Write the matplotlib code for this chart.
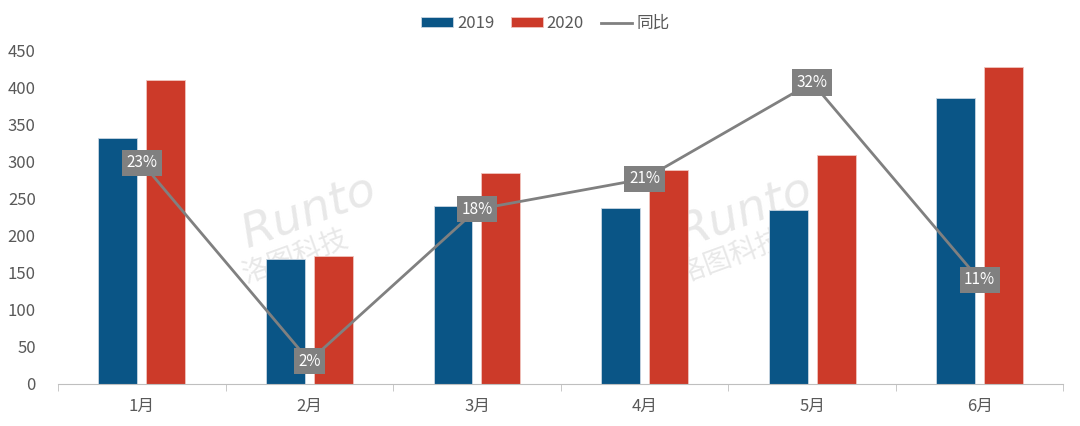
import matplotlib.pyplot as plt
import numpy as np

plt.rcParams['font.family'] = ['Noto Sans CJK SC', 'DejaVu Sans']

months = ['1月', '2月', '3月', '4月', '5月', '6月']
sales_2019 = [332, 168, 240, 237, 234, 385]
sales_2020 = [409, 172, 284, 288, 308, 427]
yoy = [0.232, 0.024, 0.183, 0.215, 0.316, 0.109]
yoy_labels = ['23%', '2%', '18%', '21%', '32%', '11%']

blue = '#0a5586'
red = '#cc3a29'
grey_txt = '#595959'

fig = plt.figure(figsize=(10.8, 4.26), dpi=100)
ax = fig.add_axes([0.0537, 0.0986, 0.931, 0.784])

x = np.arange(len(months))
w = 0.232
off = 0.143
ax.bar(x - off, sales_2019, w, color=blue, edgecolor='#c9d6e2', linewidth=0.6, label='2019', zorder=2)
ax.bar(x + off, sales_2020, w, color=red, edgecolor='#f0c4bd', linewidth=0.6, label='2020', zorder=2)

ax.set_xlim(-0.5, len(months) - 0.5)
ax.set_ylim(0, 450)
ax.set_yticks(range(0, 451, 50))
ax.set_xticks(x)
ax.set_xticklabels(months)
ax.set_xticks(np.arange(-0.5, len(months), 1), minor=True)
ax.tick_params(axis='x', which='major', length=0, pad=10, labelsize=12, colors=grey_txt)
ax.tick_params(axis='x', which='minor', length=5, color='#bfbfbf', direction='out')
ax.tick_params(axis='y', length=0, pad=16, labelsize=12, colors=grey_txt)
for s in ['top', 'right', 'left']:
    ax.spines[s].set_visible(False)
ax.spines['bottom'].set_color('#bfbfbf')

# watermark
for xc in (1.0, 3.6):
    ax.text(xc, 232, 'Runto', fontsize=34, style='italic', color='#d9d9d9', alpha=0.6,
            rotation=20, ha='center', va='center', zorder=1, family='DejaVu Sans')
    ax.text(xc - 0.08, 172, '洛图科技', fontsize=20, style='italic', color='#d9d9d9', alpha=0.6,
            rotation=20, ha='center', va='center', zorder=1)

ax2 = ax.twinx()
ax2.set_ylim(0, 0.35)
ax2.axis('off')
line, = ax2.plot(x, yoy, color='#808080', linewidth=2, label='同比', zorder=3)
for xi, yi, lab in zip(x, yoy, yoy_labels):
    ax2.text(xi, yi, lab, color='white', fontsize=11, ha='center', va='center', zorder=4,
             bbox=dict(boxstyle='square,pad=0.3', facecolor='#808080', edgecolor='none'))

handles = [ax.patches[0], ax.patches[len(months)], line]
fig.legend(handles, ['2019', '2020', '同比'], loc='upper center', bbox_to_anchor=(0.505, 1.0),
           ncol=3, frameon=False, fontsize=12, labelcolor=grey_txt, handlelength=1.9,
           handleheight=0.5, handletextpad=0.25, columnspacing=1.0)

fig.savefig('out.png', dpi=100)
